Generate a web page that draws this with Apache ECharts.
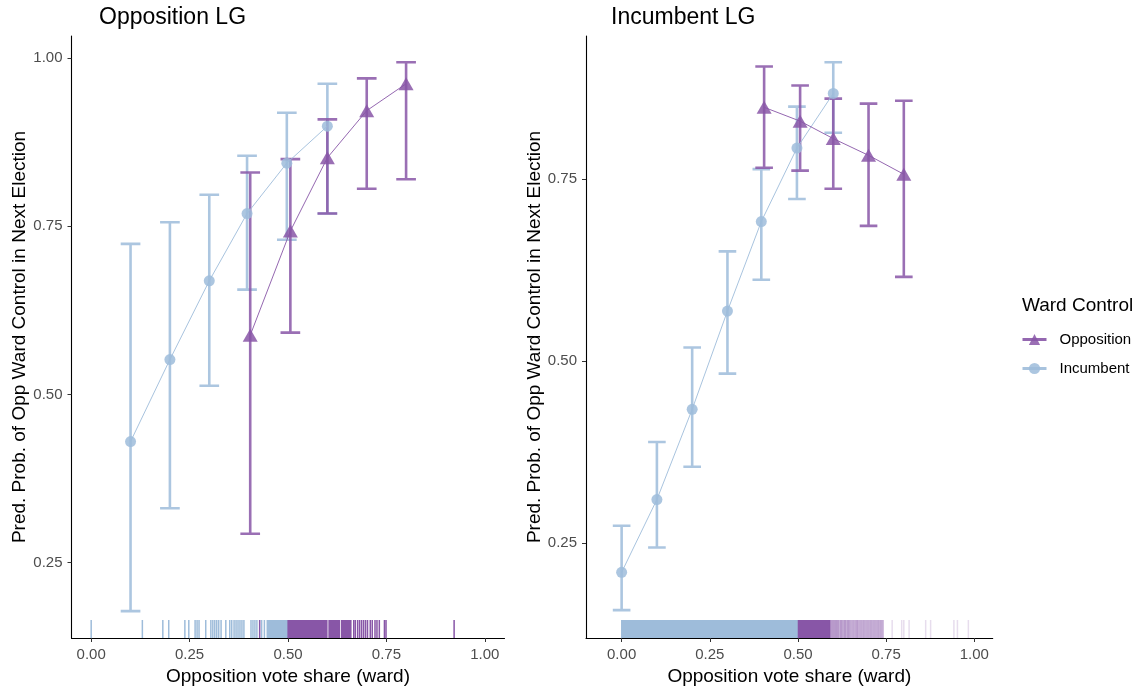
<!DOCTYPE html>
<html><head><meta charset="utf-8">
<script src="https://cdn.jsdelivr.net/npm/echarts@6/dist/echarts.min.js"></script>
<style>html,body{margin:0;padding:0;background:#fff}#c{width:1142px;height:691px}</style>
</head><body><div id="c"></div><script>
// ---------- data ----------
const xTicks = [0, 0.25, 0.5, 0.75, 1];
const yTicksLeft = [0.25, 0.5, 0.75, 1];
const yTicksRight = [0.25, 0.5, 0.75];
const panelTitles = ['Opposition LG', 'Incumbent LG'];
const seriesNames = ['Opposition', 'Incumbent'];

// Opposition LG panel
const oppLG_incX  = [0.1, 0.2, 0.3, 0.396, 0.497, 0.6];
const oppLG_incY  = [0.430, 0.552, 0.669, 0.769, 0.844, 0.899];
const oppLG_incLo = [0.178, 0.331, 0.513, 0.656, 0.730, 0.769];
const oppLG_incHi = [0.724, 0.756, 0.797, 0.855, 0.919, 0.962];
const oppLG_oppX  = [0.404, 0.506, 0.6, 0.7, 0.8];
const oppLG_oppY  = [0.588, 0.743, 0.852, 0.922, 0.962];
const oppLG_oppLo = [0.293, 0.592, 0.769, 0.806, 0.820];
const oppLG_oppHi = [0.830, 0.850, 0.909, 0.970, 0.994];

// Incumbent LG panel
const incLG_incX  = [0.0, 0.1, 0.2, 0.3, 0.396, 0.497, 0.6];
const incLG_incY  = [0.210, 0.310, 0.434, 0.569, 0.692, 0.793, 0.868];
const incLG_incLo = [0.158, 0.244, 0.355, 0.483, 0.612, 0.723, 0.814];
const incLG_incHi = [0.274, 0.389, 0.519, 0.651, 0.764, 0.850, 0.911];
const incLG_oppX  = [0.404, 0.506, 0.6, 0.7, 0.8];
const incLG_oppY  = [0.849, 0.830, 0.806, 0.783, 0.757];
const incLG_oppLo = [0.766, 0.762, 0.737, 0.686, 0.616];
const incLG_oppHi = [0.905, 0.879, 0.861, 0.854, 0.858];

// rug (observed ward vote shares)
const oppLG_incRug = [0.0, 0.130, 0.182, 0.197, 0.238, 0.248, 0.264, 0.269, 0.274, 0.291, 0.304, 0.309, 0.314, 0.319, 0.324, 0.330, 0.342, 0.352, 0.357, 0.363, 0.368, 0.373, 0.378, 0.383, 0.388, 0.406, 0.411, 0.416, 0.421, 0.433, 0.440];
const oppLG_incRugBands = [[0.447, 0.500]];
const oppLG_oppRug = [0.428, 0.667, 0.671, 0.677, 0.682, 0.687, 0.692, 0.697, 0.702, 0.709, 0.714, 0.721, 0.726, 0.732, 0.745, 0.749, 0.922];
const oppLG_oppRugBands = [[0.500, 0.599], [0.604, 0.631], [0.636, 0.660]];

const incLG_incRugBands = [[0.0, 0.501]];
const incLG_oppRugBands = [[0.501, 0.590]];
const incLG_oppRugDense = [0.592, 0.595, 0.598, 0.601, 0.604, 0.607, 0.610, 0.613, 0.616, 0.620, 0.623, 0.626, 0.630, 0.633, 0.636, 0.640, 0.643, 0.646, 0.650, 0.654, 0.658, 0.662, 0.666, 0.669, 0.673, 0.677, 0.681, 0.685, 0.689, 0.693, 0.697, 0.701, 0.705, 0.709, 0.713, 0.717, 0.721, 0.725, 0.729, 0.733, 0.737, 0.741];
const incLG_oppRugSparse = [0.767, 0.794, 0.800, 0.815, 0.862, 0.876, 0.942, 0.952, 0.983];

// ---------- styling ----------
const BLUE = '#9ebcda', PURPLE = '#8856a7';
const FONT = 'Liberation Sans, Arial, sans-serif';
const CAP_HALF = 0.025;

const zip2 = (a, b) => a.map((v, i) => [v, b[i]]);
const zip3 = (a, b, c) => a.map((v, i) => [v, b[i], c[i]]);

function errorBarRender(color, opacity) {
  return function (params, api) {
    const x = api.value(0), lo = api.value(1), hi = api.value(2);
    const t = api.coord([x, hi]), b = api.coord([x, lo]);
    const hw = api.size([CAP_HALF, 0])[0];
    const d = `M${t[0]} ${t[1]}L${b[0]} ${b[1]}M${t[0]-hw} ${t[1]}L${t[0]+hw} ${t[1]}M${b[0]-hw} ${b[1]}L${b[0]+hw} ${b[1]}`;
    return { type: 'path', shape: { pathData: d }, style: { stroke: color, fill: null, lineWidth: 2.6, opacity: opacity } };
  };
}
function rugTickRender(color, opacity) {
  return function (params, api) {
    const cs = params.coordSys;
    const x = api.coord([api.value(0), 0.5])[0];
    const yb = cs.y + cs.height;
    return { type: 'line', shape: { x1: x, y1: yb, x2: x, y2: yb - 18 }, style: { stroke: color, lineWidth: 1.5, opacity: opacity } };
  };
}
function rugBandRender(color) {
  return function (params, api) {
    const cs = params.coordSys;
    const x0 = api.coord([api.value(0), 0.5])[0];
    const x1 = api.coord([api.value(1), 0.5])[0];
    const yb = cs.y + cs.height;
    return { type: 'rect', shape: { x: x0 - 0.6, y: yb - 18, width: x1 - x0 + 1.2, height: 18 }, style: { fill: color } };
  };
}

function xAxisCfg(idx, min, max) {
  return {
    type: 'value', gridIndex: idx, min: min, max: max,
    name: 'Opposition vote share (ward)', nameLocation: 'middle', nameGap: 29,
    nameTextStyle: { fontFamily: FONT, fontSize: 19, color: '#000' },
    splitLine: { show: false },
    axisLine: { show: true, onZero: false, lineStyle: { color: '#000', width: 1.1 } },
    axisTick: { show: true, length: 4, customValues: xTicks, lineStyle: { color: '#333' } },
    axisLabel: { customValues: xTicks, margin: 9, fontFamily: FONT, fontSize: 15, color: '#4d4d4d', formatter: v => v.toFixed(2) }
  };
}
function yAxisCfg(idx, min, max, ticks) {
  return {
    type: 'value', gridIndex: idx, min: min, max: max,
    name: 'Pred. Prob. of Opp Ward Control in Next Election', nameLocation: 'middle', nameGap: 41,
    nameTextStyle: { fontFamily: FONT, fontSize: 19, color: '#000' },
    splitLine: { show: false },
    axisLine: { show: true, onZero: false, lineStyle: { color: '#000', width: 1.1 } },
    axisTick: { show: true, length: 4, customValues: ticks, lineStyle: { color: '#333' } },
    axisLabel: { customValues: ticks, margin: 9, fontFamily: FONT, fontSize: 15, color: '#4d4d4d', formatter: v => v.toFixed(2) }
  };
}

function lineSeries(name, idx, xs, ys, color, symbol, size, z) {
  return {
    type: 'line', name: name, xAxisIndex: idx, yAxisIndex: idx, data: zip2(xs, ys),
    symbol: symbol, symbolSize: size, z: z, silent: true, animation: false,
    lineStyle: { color: color, width: 1, opacity: 0.9 },
    itemStyle: { color: color, opacity: 0.85 }
  };
}
function ebSeries(name, idx, xs, lo, hi, color) {
  return {
    type: 'custom', name: name, xAxisIndex: idx, yAxisIndex: idx, data: zip3(xs, lo, hi),
    encode: { x: 0, y: [1, 2] }, renderItem: errorBarRender(color, 0.85), z: 2, silent: true, animation: false
  };
}
function rugSeries(name, idx, vals, color, opacity) {
  return {
    type: 'custom', name: name, xAxisIndex: idx, yAxisIndex: idx, data: vals.map(v => [v]),
    encode: { x: 0 }, renderItem: rugTickRender(color, opacity), z: 1, silent: true, animation: false
  };
}
function rugBandSeries(name, idx, bands, color) {
  return {
    type: 'custom', name: name, xAxisIndex: idx, yAxisIndex: idx, data: bands,
    encode: { x: [0, 1] }, renderItem: rugBandRender(color), z: 1, silent: true, animation: false
  };
}

const chart = echarts.init(document.getElementById('c'), null, { renderer: 'canvas' });
chart.setOption({
  backgroundColor: '#fff',
  animation: false,
  textStyle: { fontFamily: FONT },
  title: [
    { text: panelTitles[0], left: 94, top: 1, textStyle: { fontFamily: FONT, fontSize: 23, fontWeight: 'normal', color: '#000' } },
    { text: panelTitles[1], left: 606, top: 1, textStyle: { fontFamily: FONT, fontSize: 23, fontWeight: 'normal', color: '#000' } },
    { text: 'Ward Control', left: 1017, top: 291, textStyle: { fontFamily: FONT, fontSize: 19, fontWeight: 'normal', color: '#000' } }
  ],
  legend: {
    data: seriesNames, orient: 'vertical', left: 1016, top: 327, itemGap: 14,
    itemWidth: 24, itemHeight: 14, selectedMode: false,
    lineStyle: { width: 3 },
    textStyle: { fontFamily: FONT, fontSize: 15, color: '#000', padding: [0, 0, 0, 8] }
  },
  grid: [
    { left: 71.5, top: 36, width: 433, height: 603 },
    { left: 586, top: 36, width: 406.7, height: 603 }
  ],
  xAxis: [xAxisCfg(0, -0.05, 1.05), xAxisCfg(1, -0.101, 1.052)],
  yAxis: [yAxisCfg(0, 0.138, 1.033, yTicksLeft), yAxisCfg(1, 0.1197, 0.947, yTicksRight)],
  series: [
    lineSeries('Opposition', 0, oppLG_oppX, oppLG_oppY, PURPLE, 'triangle', [15, 13], 4),
    lineSeries('Incumbent', 0, oppLG_incX, oppLG_incY, BLUE, 'circle', 11, 3),
    lineSeries('Opposition', 1, incLG_oppX, incLG_oppY, PURPLE, 'triangle', [15, 13], 4),
    lineSeries('Incumbent', 1, incLG_incX, incLG_incY, BLUE, 'circle', 11, 3),
    ebSeries('eb-inc-0', 0, oppLG_incX, oppLG_incLo, oppLG_incHi, BLUE),
    ebSeries('eb-opp-0', 0, oppLG_oppX, oppLG_oppLo, oppLG_oppHi, PURPLE),
    ebSeries('eb-inc-1', 1, incLG_incX, incLG_incLo, incLG_incHi, BLUE),
    ebSeries('eb-opp-1', 1, incLG_oppX, incLG_oppLo, incLG_oppHi, PURPLE),
    rugSeries('rug-inc-0', 0, oppLG_incRug, BLUE, 1),
    rugBandSeries('rugb-inc-0', 0, oppLG_incRugBands, BLUE),
    rugSeries('rug-opp-0', 0, oppLG_oppRug, PURPLE, 1),
    rugBandSeries('rugb-opp-0', 0, oppLG_oppRugBands, PURPLE),
    rugBandSeries('rugb-inc-1', 1, incLG_incRugBands, BLUE),
    rugBandSeries('rugb-opp-1', 1, incLG_oppRugBands, PURPLE),
    rugSeries('rug-opp-1d', 1, incLG_oppRugDense, PURPLE, 0.5),
    rugSeries('rug-opp-1s', 1, incLG_oppRugSparse, PURPLE, 0.2)
  ]
});
</script></body></html>
